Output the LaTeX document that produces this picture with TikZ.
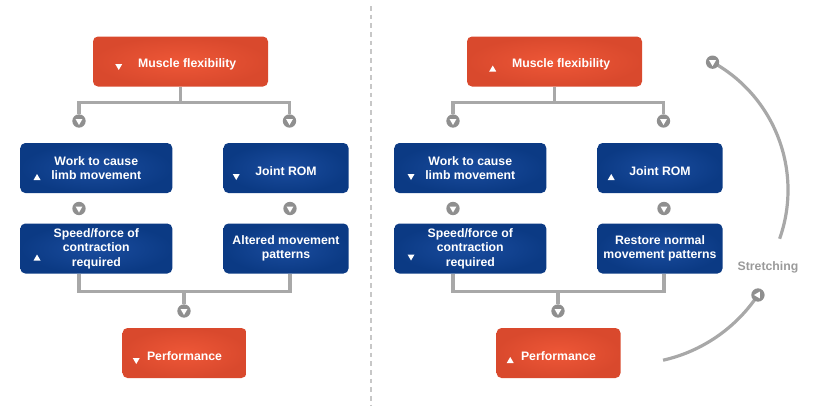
\documentclass[tikz,border=0pt]{standalone}
\usepackage{fontspec}
\setmainfont{Liberation Sans}
\usetikzlibrary{calc}

\definecolor{flexred}{HTML}{D9492D}
\definecolor{flexredlt}{HTML}{EE5737}
\definecolor{romblue}{HTML}{0B3A84}
\definecolor{rombluelt}{HTML}{1A4C9E}
\definecolor{wiregray}{HTML}{A8A8A8}
\definecolor{knobgray}{HTML}{8F8F8F}
\definecolor{textgray}{HTML}{9A9A9A}

\newcommand{\boxfont}{\bfseries\fontsize{9.2}{10.8}\selectfont}
% small white markers inside the boxes (px units)
\newcommand{\mkup}[1]{\fill[white] #1 ++(-3.5,3) -- ++(7,0) -- ++(-3.5,-6) -- cycle;}
\newcommand{\mkdn}[1]{\fill[white] #1 ++(-3.5,-3) -- ++(7,0) -- ++(-3.5,6) -- cycle;}

\tikzset{
  redbox/.style={rectangle, rounded corners=3.75pt, inner color=flexredlt, outer color=flexred,
    minimum height=37.5pt, text=white, font=\boxfont, align=center,
    execute at begin node=\rule{0pt}{11pt}},
  bluebox/.style={rectangle, rounded corners=3.75pt, inner color=rombluelt, outer color=romblue,
    minimum height=37.5pt, text=white, font=\boxfont, align=center,
    execute at begin node=\rule{0pt}{11pt}},
  wire/.style={draw=wiregray, line width=2.4pt},
  knob/.style={circle, fill=knobgray, minimum size=10pt, inner sep=0pt,
    path picture={\fill[white]
      ($(path picture bounding box.center)+(#1:3pt)$) --
      ($(path picture bounding box.center)+(#1+120:3pt)$) --
      ($(path picture bounding box.center)+(#1+240:3pt)$) -- cycle;}},
  knob/.default=-90,
  divider/.style={draw=black!22, line width=0.8pt, dash pattern=on 3.5pt off 3pt}
}

\begin{document}
\begin{tikzpicture}[x=0.75pt,y=-0.75pt]
  \useasboundingbox (0,0) rectangle (822,408);
  \draw[divider] (371,6) -- (371,406);

  % left panel
  \node[redbox, minimum width=131.25pt] (lmf) at (180.5,61.5) {\hspace*{10pt}Muscle flexibility};
  \node[bluebox, minimum width=114pt] (lwork) at (96.3,168) {Work to cause\\limb movement};
  \node[bluebox, minimum width=93.75pt] (ljoint) at (286,168) {Joint ROM};
  \node[bluebox, minimum width=114pt] (lspeed) at (96.3,248.5) {Speed/force of\\contraction\\required};
  \node[bluebox, minimum width=93.75pt] (lalt) at (286,248.5) {Altered movement\\patterns};
  \node[redbox, minimum width=93pt] (lperf) at (184.5,353) {Performance};
  \node[knob] (lk1) at (79,121) {};
  \node[knob] (lk2) at (289.5,121) {};
  \node[knob] (lk3) at (79,208.5) {};
  \node[knob] (lk4) at (290,208.5) {};
  \node[knob] (lk5) at (184,311) {};
  \draw[wire] (lmf.south) -- ++(0,16) coordinate (ltop) -| (lk1);
  \draw[wire] (ltop) -| (lk2);
  \draw[wire] (lk3 |- lspeed.south) -- ++(0,18) -| (lk4 |- lalt.south);
  \draw[wire] (lk5) -- (lk5 |- 0,291);
  \mkdn{($(lmf.west)+(26,5.5)$)}
  \mkup{($(lwork.west)+(17,9)$)}
  \mkdn{($(ljoint.west)+(13,9)$)}
  \mkup{($(lspeed.west)+(17,9)$)}
  \mkdn{($(lperf.west)+(14,8)$)}

  % right panel
  \begin{scope}[xshift=280.5pt]
    \node[redbox, minimum width=131.25pt] (rmf) at (180.5,61.5) {\hspace*{10pt}Muscle flexibility};
    \node[bluebox, minimum width=114pt] (rwork) at (96.3,168) {Work to cause\\limb movement};
    \node[bluebox, minimum width=93.75pt] (rjoint) at (286,168) {Joint ROM};
    \node[bluebox, minimum width=114pt] (rspeed) at (96.3,248.5) {Speed/force of\\contraction\\required};
    \node[bluebox, minimum width=93.75pt] (rrest) at (286,248.5) {Restore normal\\movement patterns};
    \node[redbox, minimum width=93pt] (rperf) at (184.5,353) {Performance};
    \node[knob] (rk1) at (79,121) {};
    \node[knob] (rk2) at (289.5,121) {};
    \node[knob] (rk3) at (79,208.5) {};
    \node[knob] (rk4) at (290,208.5) {};
    \node[knob] (rk5) at (184,311) {};
    \draw[wire] (rmf.south) -- ++(0,16) coordinate (rtop) -| (rk1);
    \draw[wire] (rtop) -| (rk2);
    \draw[wire] (rk3 |- rspeed.south) -- ++(0,18) -| (rk4 |- rrest.south);
    \draw[wire] (rk5) -- (rk5 |- 0,291);
    \mkup{($(rmf.west)+(26,7)$)}
    \mkdn{($(rwork.west)+(17,9)$)}
    \mkup{($(rjoint.west)+(14,9)$)}
    \mkdn{($(rspeed.west)+(17,9)$)}
    \mkup{($(rperf.west)+(14,7)$)}
  \end{scope}

  % stretching loop
  \coordinate (sc1) at (642,190);
  \coordinate (sc2) at (629,209);
  \draw[wire] (sc1) ++(61.1:109.5pt) arc[start angle=61.1, end angle=-19.5, radius=109.5pt];
  \draw[wire] (sc2) ++(-33.7:116.25pt) arc[start angle=-33.7, end angle=-77.3, radius=116.25pt];
  \node[knob] (sk1) at ($(sc1)+(61.1:109.5pt)$) {};
  \node[knob=180] (sk2) at ($(sc2)+(-33.7:116.25pt)$) {};
  \node[text=textgray, font=\boxfont] (stretch) at (768,267) {Stretching};
\end{tikzpicture}
\end{document}
